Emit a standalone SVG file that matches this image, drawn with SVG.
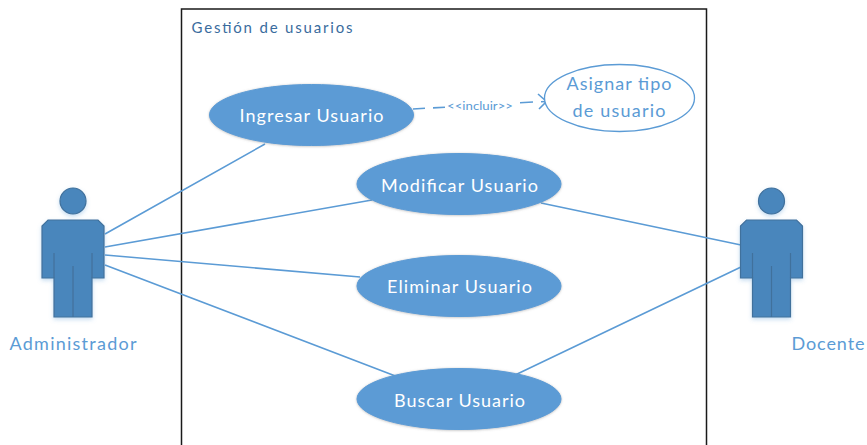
<svg xmlns="http://www.w3.org/2000/svg" width="867" height="445" viewBox="0 0 867 445">
<style>
text{font-family:Lato,"Liberation Sans",sans-serif;text-anchor:middle}
.uc{fill:#5b9bd5;stroke:#5b9bd5;filter:url(#shade)}
.ut{fill:#fff;font-size:18px}
.lbl{fill:#5b9bd5;font-size:18px}
.line{fill:none;stroke:#5b9bd5;stroke-width:1.6}
.body{fill:#4a86bc;stroke:#41719c;stroke-width:1.2}
.seam{fill:none;stroke:#41719c;stroke-width:1.2}
</style>
<defs>
<filter id="soft" x="-20%" y="-20%" width="140%" height="140%"><feDropShadow dx="0" dy="2" stdDeviation="2" flood-color="#5b9bd5" flood-opacity="0.35"/></filter>
<filter id="shade" x="-5%" y="-10%" width="110%" height="120%"><feDropShadow dx="0" dy="0.500" stdDeviation="1" flood-color="#777" flood-opacity="0.5"/></filter>
<g id="person" filter="url(#soft)">
<circle cx="0" cy="0" r="13" class="body"/>
<path class="body" d="M-25 19H25L31 25V77H19V116H-19V77H-31V25Z"/>
<path class="seam" d="M-19 52V77M19 52V77M0 65V116"/>
</g>
</defs>
<rect width="867" height="445" fill="#fff"/>
<g id="system">
<path d="M181.500 446V9H706.500V446" fill="none" stroke="#1a1a1a" stroke-width="1.500"/>
<text x="272" y="33" fill="#3a6c9e" style="font-size:15px" textLength="161">Gestión de usuarios</text>
</g>
<g id="connectors">
<path class="line" d="M105 234L265 144M105 247L372 200M105 255L360 277M105 265L398 377M541 203L741 245M513 376L741 267"/>
<path class="line" d="M413 109L425 108.300M433 107.900L445 107.200M520 102.700L533 102M541 101.700L546 101.500"/>
<path class="line" d="M538 94L546.500 101.500L539 109"/>
<text x="480" y="110" fill="#5b9bd5" style="font-size:11.500px" textLength="66" lengthAdjust="spacingAndGlyphs">&lt;&lt;incluir&gt;&gt;</text>
</g>
<g id="ingresar"><ellipse class="uc" cx="311.500" cy="115" rx="102" ry="30.500"/><text class="ut" x="311.500" y="122" textLength="144">Ingresar Usuario</text></g>
<g id="asignar"><ellipse cx="619.500" cy="98" rx="75" ry="33.500" fill="#fff" stroke="#5b9bd5" stroke-width="1.300"/><text class="lbl" x="619" y="90" textLength="105">Asignar tipo</text><text class="lbl" x="619" y="117" textLength="93">de usuario</text></g>
<g id="modificar"><ellipse class="uc" cx="459" cy="184" rx="102" ry="30.500"/><text class="ut" x="459.500" y="192" textLength="157">Modificar Usuario</text></g>
<g id="eliminar"><ellipse class="uc" cx="459" cy="286" rx="102" ry="30.500"/><text class="ut" x="459.500" y="293" textLength="145">Eliminar Usuario</text></g>
<g id="buscar"><ellipse class="uc" cx="459" cy="399" rx="102" ry="30.500"/><text class="ut" x="459.500" y="407" textLength="131">Buscar Usuario</text></g>
<g id="administrador"><use href="#person" x="73" y="201"/><text class="lbl" x="73" y="350" textLength="127">Administrador</text></g>
<g id="docente"><use href="#person" x="771.500" y="201"/><text class="lbl" x="828" y="350" textLength="73">Docente</text></g>
</svg>
